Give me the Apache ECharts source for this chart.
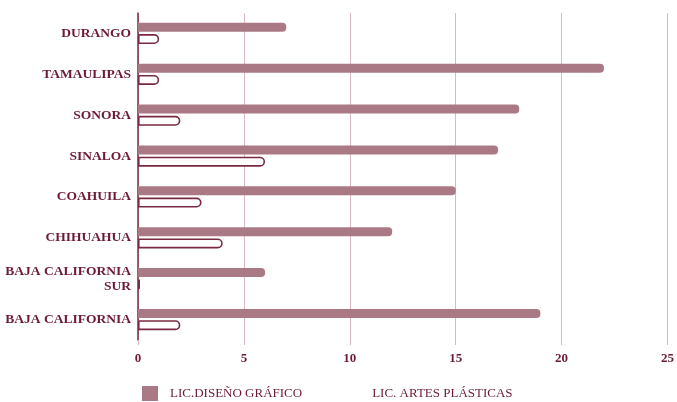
<!DOCTYPE html>
<html>
<head>
<meta charset="utf-8">
<script src="https://cdn.jsdelivr.net/npm/echarts@6/dist/echarts.min.js"></script>
<style>
  html, body { margin: 0; padding: 0; background: #fff; }
  #chart { width: 677px; height: 402px; }
</style>
</head>
<body>
<div id="chart"></div>
<script>
var estados = ['DURANGO', 'TAMAULIPAS', 'SONORA', 'SINALOA', 'COAHUILA', 'CHIHUAHUA', 'BAJA CALIFORNIA SUR', 'BAJA CALIFORNIA'];
var disenoGrafico = [7, 22, 18, 17, 15, 12, 6, 19];
var artesPlasticas = [1, 1, 2, 6, 3, 4, 0, 2];
var xTicks = [0, 5, 10, 15, 20, 25];

var textColor = '#6d1a36';
var fontFam = '"Liberation Serif", "DejaVu Serif", serif';

var myChart = echarts.init(document.getElementById('chart'));
myChart.setOption({
    animation: false,
    textStyle: { fontFamily: fontFam },
    grid: { left: 137, right: 8, top: 13, height: 327 },
    legend: {
        left: 137,
        top: 381,
        itemWidth: 16,
        itemHeight: 15,
        itemGap: 42,
        icon: 'rect',
        textStyle: { color: textColor, fontSize: 13, fontFamily: fontFam, padding: [0, 0, 0, 7] },
        data: [
            { name: 'LIC.DISEÑO GRÁFICO', itemStyle: { color: '#a97a85', borderWidth: 0 } },
            { name: 'LIC. ARTES PLÁSTICAS', itemStyle: { color: '#ffffff', borderWidth: 0 } }
        ]
    },
    xAxis: {
        type: 'value',
        min: xTicks[0],
        max: xTicks[xTicks.length - 1],
        interval: 5,
        axisLine: { show: false },
        axisTick: { show: true, length: 5, lineStyle: { color: '#d9b8c3' } },
        splitLine: { show: true, lineStyle: { color: '#d9b8c3', width: 1 } },
        axisLabel: { color: textColor, fontSize: 13, fontWeight: 'bold', fontFamily: fontFam, margin: 12 }
    },
    yAxis: {
        type: 'category',
        inverse: true,
        data: estados,
        axisLine: { show: true, lineStyle: { color: '#7a2a40', width: 1.5 } },
        axisTick: { show: false },
        axisLabel: {
            color: textColor, fontSize: 13.5, fontWeight: 'bold', fontFamily: fontFam,
            margin: 7, width: 128, overflow: 'break', lineHeight: 15
        }
    },
    series: [{
        name: 'LIC.DISEÑO GRÁFICO',
        type: 'bar',
        data: disenoGrafico,
        barWidth: 9,
        barGap: '25%',
        itemStyle: { color: '#a97a85', borderRadius: [0, 4, 4, 0] }
    }, {
        name: 'LIC. ARTES PLÁSTICAS',
        type: 'bar',
        data: artesPlasticas,
        barWidth: 10,
        barMinHeight: 2,
        itemStyle: { color: '#ffffff', borderColor: '#7a2a40', borderWidth: 1.6, borderRadius: [0, 5, 5, 0] }
    }]
});
</script>
</body>
</html>
